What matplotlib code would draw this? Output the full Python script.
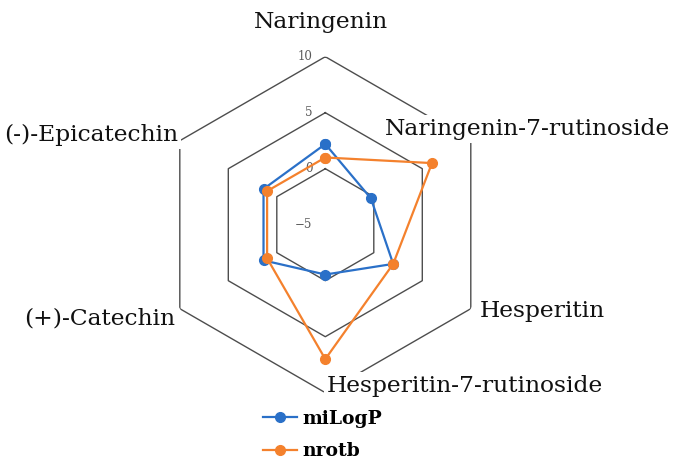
import numpy as np
import matplotlib
matplotlib.use("Agg")
import matplotlib.pyplot as plt
from matplotlib.transforms import offset_copy

categories = ['Naringenin', 'Naringenin-7-rutinoside', 'Hesperitin',
              'Hesperitin-7-rutinoside', '(+)-Catechin', '(-)-Epicatechin']
milogp = [2.2, -0.3, 2.0, -0.55, 1.37, 1.37]
nrotb = [1, 6, 2, 7, 1, 1]
ring_values = [-5, 0, 5, 10]
ring_labels = ['\u22125', '0', '5', '10']
series_names = ['miLogP', 'nrotb']

W, H = 678, 470
fig = plt.figure(figsize=(W / 100, H / 100), dpi=100)
cx, cy, R = 325.3, 470 - 224.7, 168.0
ax = fig.add_axes([(cx - R) / W, (cy - R) / H, 2 * R / W, 2 * R / H], projection='polar')
ax.set_theta_zero_location('N')
ax.set_theta_direction(-1)
ax.set_ylim(ring_values[0], ring_values[-1])
ax.grid(False)
ax.set_xticks([])
ax.set_yticks([])
ax.spines['polar'].set_visible(False)
ax.patch.set_visible(False)

n = len(categories)
angles = np.linspace(0, 2 * np.pi, n, endpoint=False)
ang_c = np.concatenate([angles, angles[:1]])

grid_color = '#4d4d4d'
for rv in ring_values[1:]:
    ax.plot(ang_c, [rv] * (n + 1), color=grid_color, lw=1.0, zorder=1)

tr = offset_copy(ax.transData, fig=fig, x=-13, y=0, units='dots')
for rv, lab in zip(ring_values, ring_labels):
    ax.text(0, rv, lab, transform=tr, ha='right', va='center', fontsize=8.5,
            color='#595959', family='DejaVu Serif')

colors = ['#2a70c8', '#f4812d']
for vals, c, name in zip([milogp, nrotb], colors, series_names):
    v = np.concatenate([vals, vals[:1]])
    ax.plot(ang_c, v, color=c, lw=1.6, marker='o', markersize=7, label=name, zorder=3)

# category labels (anchor x, baseline y in pixels from top, alignment)
label_pos = [(254, 28, 'left'), (385, 135, 'left'), (480, 317, 'left'),
             (327, 392, 'left'), (175, 324, 'right'), (178, 141, 'right')]
for lab, (x, y, ha) in zip(categories, label_pos):
    fig.text(x / W, 1 - y / H, lab, ha=ha, va='baseline', fontsize=16.8,
             family='DejaVu Serif', color='#111111',
             bbox=dict(facecolor='white', edgecolor='none', pad=2))

leg = ax.legend(loc='upper left', bbox_to_anchor=(263 / W, 1 - 410 / H),
                bbox_transform=fig.transFigure, frameon=False, borderpad=0,
                borderaxespad=0, handlelength=1.8, handletextpad=0.3,
                labelspacing=0.75, prop={'family': 'DejaVu Serif', 'weight': 'bold', 'size': 13.5})

fig.savefig('out.png', dpi=100)
